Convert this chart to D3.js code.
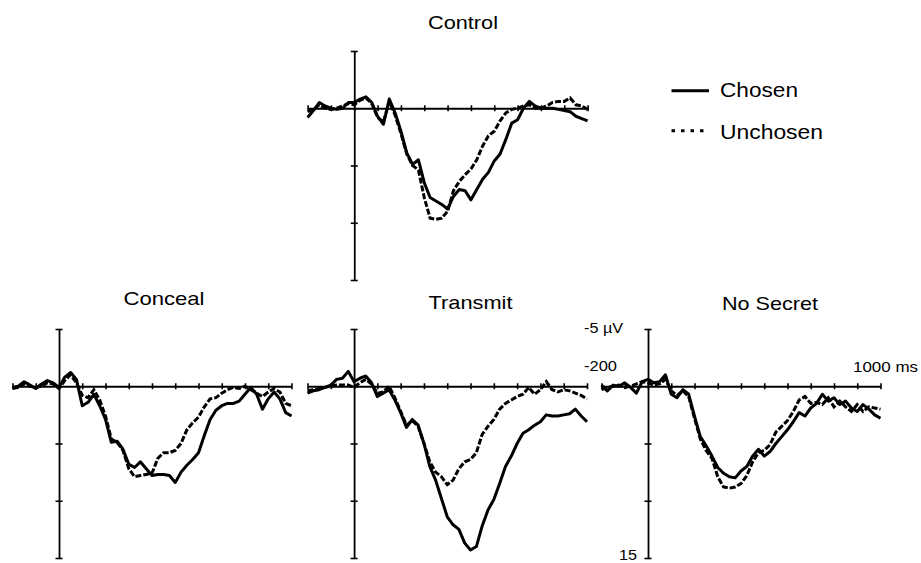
<!DOCTYPE html>
<html>
<head>
<meta charset="utf-8">
<script src="https://cdn.jsdelivr.net/npm/d3@7"></script>
<style>
  body { margin: 0; background: #fff; }
  svg text { font-family: "Liberation Sans", Arial, sans-serif; font-weight: normal; fill: #000; }
</style>
</head>
<body>
<svg width="921" height="563"></svg>
<script>
// time points (ms), every 25 ms from -200 to 1000
let times = d3.range(-200, 1001, 25)

let xTicks = d3.range(-200, 1001, 100)
let yTicks = [-5, 5, 10, 15]

let controlChosen = [0.8,0.2,-0.5,-0.2,0,0.1,0,-0.5,-0.5,-0.8,-1.0,-0.5,0.7,1.4,-0.8,0.4,2.0,3.9,4.9,4.5,6.5,7.8,8.1,8.4,8.8,7.7,7.1,7.2,8.0,7.1,6.2,5.6,4.6,4.0,2.7,1.3,1.0,0,-0.6,-0.2,0,0,0,0.1,0.2,0.3,0.7,0.9,1.1]
let controlUnchosen = [0.3,0.1,-0.3,0,0.1,0,-0.2,-0.4,-0.3,-0.7,-0.9,-0.4,0.8,1.2,-0.6,0.6,2.2,4.0,5.0,5.4,7.8,9.6,9.7,9.6,9.0,7.2,6.4,5.8,5.3,4.5,3.3,2.4,2.0,1.1,0.4,0.1,0,-0.2,-0.3,0,0,-0.2,-0.5,-0.6,-0.6,-0.9,-0.3,-0.2,0.1]

let concealChosen = [0.1,0,-0.4,-0.1,0.2,-0.2,-0.5,-0.3,0.1,-0.8,-1.2,-0.6,1.7,1.4,0.7,1.7,2.9,4.9,4.8,5.5,6.8,7.1,6.6,7.2,7.8,7.7,7.7,7.8,8.4,7.5,6.9,6.4,5.8,4.3,2.9,2.1,1.7,1.5,1.5,1.3,0.7,0.1,0.7,2.0,1.1,0.5,1.1,2.3,2.6]
let concealUnchosen = [0.2,0.1,-0.2,0,0.1,0,-0.3,-0.2,0.2,-0.5,-1.0,-0.3,0.8,1.0,0.3,1.2,2.6,4.6,4.9,5.6,7.2,7.9,7.8,7.7,7.6,6.3,5.8,5.8,5.6,5.0,3.8,3.2,2.7,1.8,1.1,1.0,0.6,0.3,0.1,0.2,0,0.3,0.6,0.9,0.5,0.2,0.5,1.5,1.7]

let transmitChosen = [0.6,0.4,0.3,0.1,-0.1,-0.6,-0.7,-1.3,-0.4,-0.7,-0.9,-0.3,0.9,0.6,0.3,1.2,2.3,3.6,2.9,3.4,5.0,7.0,8.2,9.8,11.4,12.1,12.5,13.7,14.3,14.0,12.2,10.8,9.9,8.5,7.0,6.1,5.0,4.1,3.8,3.4,3.1,2.5,2.6,2.6,2.5,2.4,2.0,2.6,3.1]
let transmitUnchosen = [0.4,0.3,0.2,0.1,0,-0.1,-0.1,-0.1,0.1,-0.3,-0.6,-0.2,0.6,0.5,0,1.0,2.2,3.4,3.0,3.5,5.0,6.6,7.5,7.9,8.6,8.2,7.2,6.6,6.4,5.8,4.2,3.5,2.9,2.0,1.5,1.2,0.9,0.7,0.1,0.7,0.3,-0.4,0.3,0.5,0.3,0.4,0.6,0.8,1.1]

let noSecretChosen = [-0.1,0.4,-0.1,0,-0.3,0.1,0.6,-0.4,-0.6,-0.3,-0.4,-1.0,0.7,1.0,0.3,0.7,2.6,4.4,5.2,6.1,7.1,7.6,7.9,8.0,7.4,7.0,6.1,5.5,6.1,5.7,5.0,4.4,3.8,3.1,2.3,2.6,1.9,1.5,0.7,1.3,1.0,1.6,1.3,1.9,2.2,1.6,2.0,2.5,2.8]
let noSecretUnchosen = [0.3,0.1,0,-0.1,0.1,0,-0.2,-0.4,-0.3,-0.1,-0.2,-0.6,0.4,0.8,0.4,0.9,2.8,4.6,5.6,6.3,7.9,8.8,8.9,8.8,8.5,7.8,6.6,5.8,5.6,5.1,4.0,3.5,3.0,2.2,1.2,0.9,1.5,1.4,1.6,1.0,1.8,1.3,1.8,2.2,1.6,2.2,1.8,1.9,2.0]

let panels = [
  {title: 'Control', chosen: controlChosen, unchosen: controlUnchosen,
   x: [307.6, 587.6], y: [51, 280], tx: 428, ty: 28.5, tw: 70},
  {title: 'Conceal', chosen: concealChosen, unchosen: concealUnchosen,
   x: [12.5, 291.5], y: [329, 558], tx: 123.5, ty: 305, tw: 81},
  {title: 'Transmit', chosen: transmitChosen, unchosen: transmitUnchosen,
   x: [307.5, 587], y: [329, 558], tx: 428.5, ty: 308.5, tw: 84},
  {title: 'No Secret', chosen: noSecretChosen, unchosen: noSecretUnchosen,
   x: [601.5, 880.5], y: [329, 558], tx: 722, ty: 310, tw: 96}
]

let svg = d3.select('svg')

let drawPanel = (p) => {
  let xScale = d3.scaleLinear().domain([-200, 1000]).range(p.x)
  let yScale = d3.scaleLinear().domain([-5, 15]).range(p.y)

  let g = svg.append('g')

  // x axis along 0 uV, ticks crossing the line
  let xAxis = d3.axisBottom(xScale).tickValues(xTicks).tickFormat('').tickSizeOuter(0)
  let gx = g.append('g')
    .attr('transform', 'translate(0,' + yScale(0) + ')')
    .call(xAxis)
  gx.select('.domain').attr('stroke', '#000').attr('stroke-width', 1.8)
  gx.selectAll('.tick line').attr('y1', -3).attr('y2', 3).attr('stroke', '#000').attr('stroke-width', 1.6)

  // y axis at 0 ms
  let yAxis = d3.axisLeft(yScale).tickValues(yTicks).tickFormat('').tickSizeOuter(0)
  let gy = g.append('g')
    .attr('transform', 'translate(' + xScale(0) + ',0)')
    .call(yAxis)
  gy.select('.domain').attr('stroke', '#000').attr('stroke-width', 1.8)
  gy.selectAll('.tick line').attr('x1', -3.5).attr('x2', 3.5).attr('stroke', '#000').attr('stroke-width', 1.6)

  let line = d3.line()
    .x((d, i) => xScale(times[i]))
    .y((d) => yScale(d))

  g.append('path')
    .datum(p.unchosen)
    .attr('d', line)
    .attr('fill', 'none')
    .attr('stroke', '#000')
    .attr('stroke-width', 3)
    .attr('stroke-dasharray', '6,2')

  g.append('path')
    .datum(p.chosen)
    .attr('d', line)
    .attr('fill', 'none')
    .attr('stroke', '#000')
    .attr('stroke-width', 3)
    .attr('stroke-linejoin', 'round')

  g.append('text')
    .attr('x', p.tx)
    .attr('y', p.ty)
    .attr('font-size', 19)
    .attr('textLength', p.tw)
    .attr('lengthAdjust', 'spacingAndGlyphs')
    .text(p.title)
}

panels.forEach(drawPanel)

// scale labels beside the No Secret panel
let labels = [
  {t: '-5 \u00b5V', x: 584, y: 333, w: 39},
  {t: '-200', x: 584, y: 371, w: 33},
  {t: '1000 ms', x: 853, y: 372, w: 65},
  {t: '15', x: 619, y: 559.5, w: 18}
]
svg.selectAll('.lab')
  .data(labels)
  .enter()
  .append('text')
  .attr('class', 'lab')
  .attr('x', (d) => d.x)
  .attr('y', (d) => d.y)
  .attr('font-size', 15.5)
  .attr('textLength', (d) => d.w)
  .attr('lengthAdjust', 'spacingAndGlyphs')
  .text((d) => d.t)

// legend
let legend = svg.append('g')
legend.append('line')
  .attr('x1', 671.5).attr('x2', 709).attr('y1', 90.7).attr('y2', 90.7)
  .attr('stroke', '#000').attr('stroke-width', 3)
legend.append('line')
  .attr('x1', 671.5).attr('x2', 706).attr('y1', 130.7).attr('y2', 130.7)
  .attr('stroke', '#000').attr('stroke-width', 3).attr('stroke-dasharray', '3.5,6')
legend.append('text')
  .attr('x', 720).attr('y', 97.3).attr('font-size', 19.5)
  .attr('textLength', 78).attr('lengthAdjust', 'spacingAndGlyphs')
  .text('Chosen')
legend.append('text')
  .attr('x', 720).attr('y', 138.7).attr('font-size', 19.5)
  .attr('textLength', 103).attr('lengthAdjust', 'spacingAndGlyphs')
  .text('Unchosen')
</script>
</body>
</html>
